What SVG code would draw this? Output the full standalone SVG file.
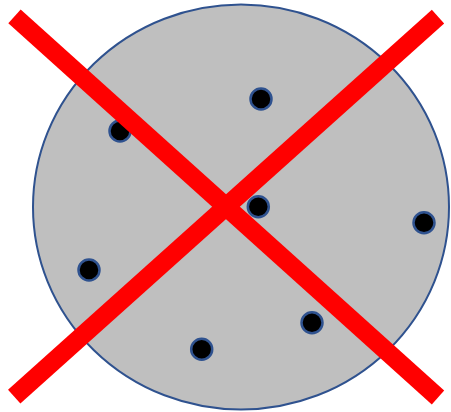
<svg xmlns="http://www.w3.org/2000/svg" width="451" height="412" viewBox="0 0 451 412">
<style>
.pt{fill:#000;stroke:#2F528F;stroke-width:2.5}
.x{stroke:#FF0000;stroke-width:18.5;stroke-linecap:butt}
</style>
<rect width="451" height="412" fill="#fff"/>
<g id="region">
<ellipse cx="241" cy="207" rx="208" ry="202.5" fill="#BFBFBF" stroke="#2F528F" stroke-width="2"/>
</g>
<g id="points">
<circle class="pt" cx="120" cy="131" r="10.5"/>
<circle class="pt" cx="261" cy="99" r="10.5"/>
<circle class="pt" cx="258.3" cy="206.7" r="10.5"/>
<circle class="pt" cx="424" cy="222.7" r="10.5"/>
<circle class="pt" cx="89" cy="270" r="10.5"/>
<circle class="pt" cx="201.7" cy="349.3" r="10.5"/>
<circle class="pt" cx="312" cy="322.7" r="10.5"/>
</g>
<g id="cross">
<line class="x" x1="14.5" y1="16.3" x2="438" y2="397.5"/>
<line class="x" x1="438" y1="16.7" x2="14.2" y2="396.7"/>
</g>
</svg>
